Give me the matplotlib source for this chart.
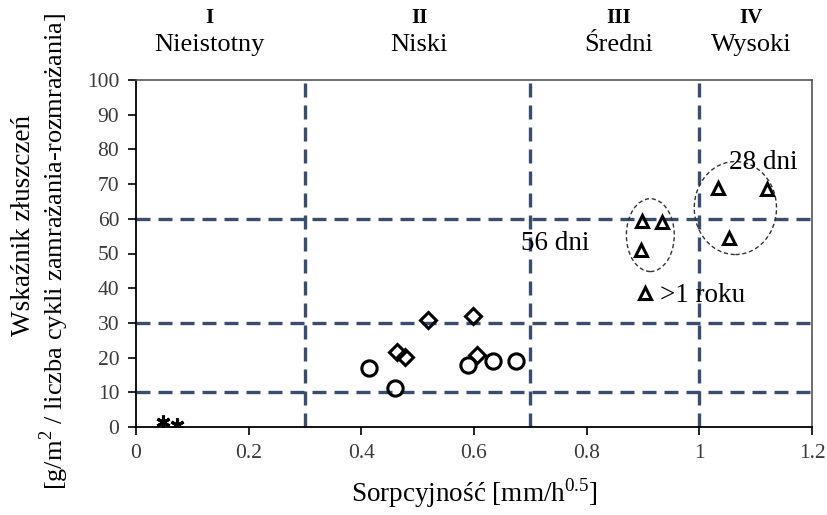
import matplotlib
matplotlib.use("Agg")
import matplotlib.pyplot as plt
from matplotlib.patches import Ellipse

plt.rcParams['font.family'] = ['Liberation Serif', 'DejaVu Serif']
plt.rcParams['mathtext.fontset'] = 'custom'
plt.rcParams['mathtext.rm'] = 'Liberation Serif'

# Measured data: sorptivity [mm/h^0.5] vs scaling index
cross_x = [0.048, 0.073]
cross_y = [1.4, 0.6]

circle_x = [0.414, 0.460, 0.590, 0.634, 0.675]
circle_y = [17.0, 11.2, 17.9, 19.0, 19.0]

diamond_x = [0.519, 0.599, 0.464, 0.478, 0.606]
diamond_y = [30.8, 32.0, 21.6, 20.2, 20.7]

tri56_x = [0.899, 0.933, 0.897]
tri56_y = [59.4, 59.1, 51.0]

tri28_x = [1.034, 1.121, 1.053]
tri28_y = [68.9, 68.6, 54.5]

tri_year_x = [0.904]
tri_year_y = [38.6]

# Class boundaries
x_bounds = [0.3, 0.7, 1.0]
y_bounds = [10, 30, 60]

classes_roman = ["I", "II", "III", "IV"]
classes_names = ["Nieistotny", "Niski", "Średni", "Wysoki"]
classes_pos = [0.131, 0.503, 0.856, 1.092]

fig = plt.figure(figsize=(8.28, 5.15), dpi=100)
ax = fig.add_axes([136/828, 1-427/515, (812-136)/828, (427-80)/515])

dash_col = '#3b4d6e'
for xb in x_bounds:
    ax.axvline(xb, color=dash_col, lw=2.4, dashes=(4.2, 2.4), zorder=1)
for yb in y_bounds:
    ax.axhline(yb, color=dash_col, lw=2.4, dashes=(4.2, 2.4), zorder=1)

mk = dict(linestyle='none', markerfacecolor='none', markeredgecolor='black',
          markeredgewidth=2.2, zorder=3)
ax.plot(cross_x, cross_y, marker=(6, 2, 0), markersize=10, **mk)
ax.plot(circle_x, circle_y, marker='o', markersize=11, **mk)
ax.plot(diamond_x, diamond_y, marker='D', markersize=8.5, **mk)
ax.plot(tri56_x, tri56_y, marker='^', markersize=8.5, **mk)
ax.plot(tri28_x, tri28_y, marker='^', markersize=8.5, **mk)
ax.plot(tri_year_x, tri_year_y, marker='^', markersize=8.5, **mk)

ax.add_patch(Ellipse((0.913, 55.3), 0.085, 21.0, fill=False, ec='#333333',
                     lw=1.0, ls=(0, (3, 2)), zorder=2))
ax.add_patch(Ellipse((1.064, 63.1), 0.146, 26.8, fill=False, ec='#333333',
                     lw=1.0, ls=(0, (3, 2)), zorder=2))

ax.text(1.114, 76.1, "28 dni", fontsize=19.5, ha='center', va='center')
ax.text(0.744, 53.0, "56 dni", fontsize=19.5, ha='center', va='center')
ax.text(0.931, 38.0, ">1 roku", fontsize=19.5, ha='left', va='center')

for r, n, p in zip(classes_roman, classes_names, classes_pos):
    ax.text(p, 117.9, r, fontsize=15, fontweight='bold', ha='center', va='center')
    ax.text(p, 110.1, n, fontsize=19, ha='center', va='center')

ax.set_xlim(0, 1.2)
ax.set_ylim(0, 100)
ax.set_xticks([0, 0.2, 0.4, 0.6, 0.8, 1.0, 1.2])
ax.set_xticklabels(["0", "0.2", "0.4", "0.6", "0.8", "1", "1.2"])
ax.set_yticks(range(0, 101, 10))
ax.tick_params(direction='out', length=6, width=1.2, labelsize=15.5,
               labelcolor='#3a3a3a', pad=6)
for s in ['left', 'bottom']:
    ax.spines[s].set_linewidth(1.3)
    ax.spines[s].set_color('black')
for s in ['top', 'right']:
    ax.spines[s].set_linewidth(1.2)
    ax.spines[s].set_color('#555555')

ax.set_xlabel("Sorpcyjność [mm/h$^{0.5}$]", fontsize=19.5, labelpad=10)
fig.text(24/828, 1-226/515, "Wskaźnik złuszczeń", rotation=90,
         fontsize=19.5, ha='center', va='center')
fig.text(54/828, 1-251/515, "[g/m$^2$ / liczba cykli zamrażania-rozmrażania]",
         rotation=90, fontsize=19, ha='center', va='center')

fig.savefig("out.png", dpi=100)
